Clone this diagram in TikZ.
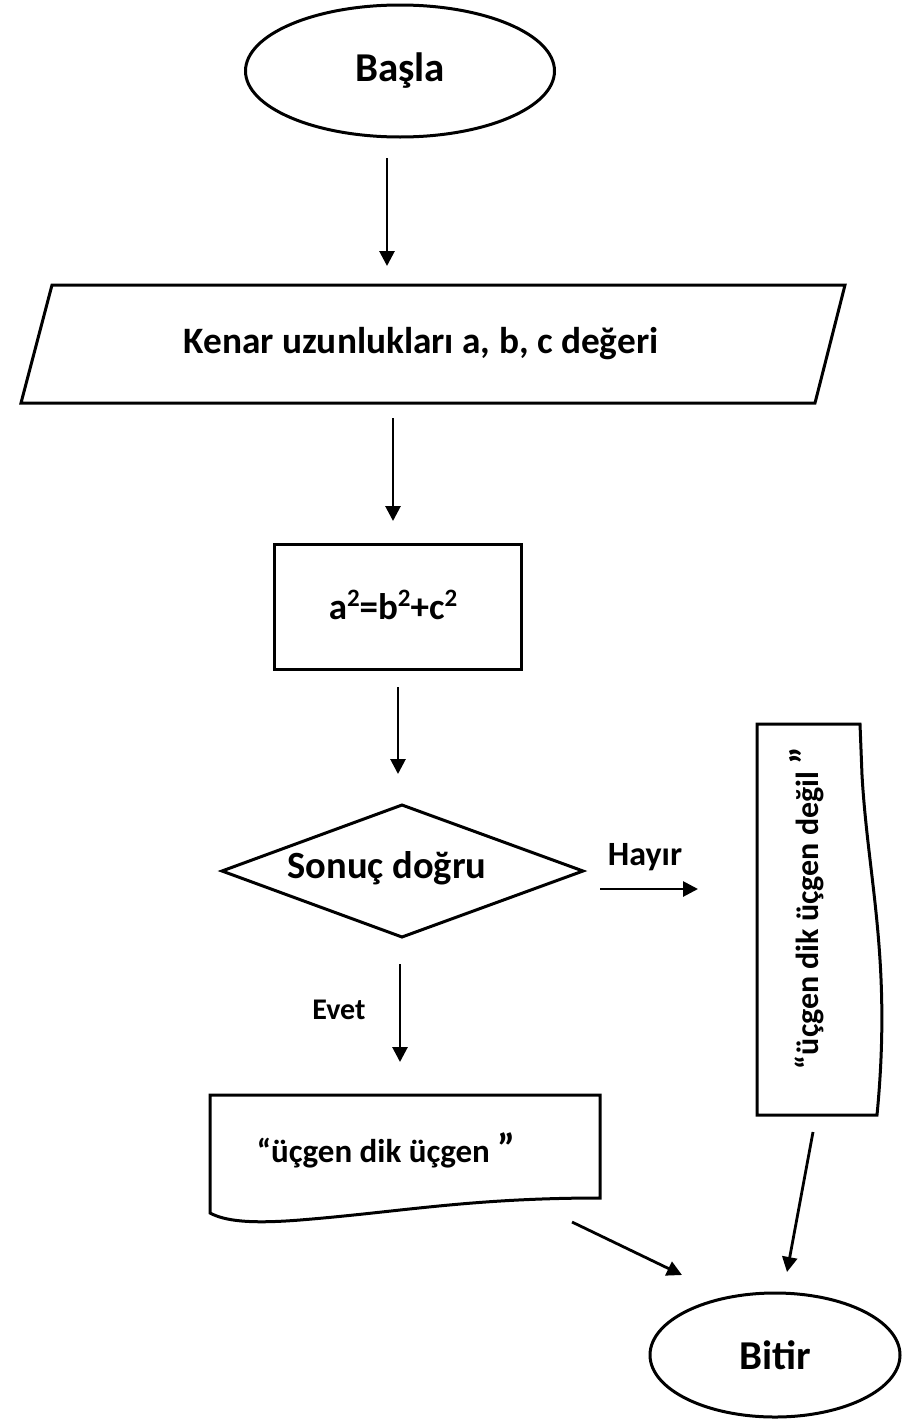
\documentclass[tikz,border=0pt]{standalone}
\usepackage{fontspec}
\setmainfont{Carlito}
\usetikzlibrary{arrows.meta,shapes.geometric}

\tikzset{
  outline/.style={draw=black, line width=3pt, line join=miter},
  terminal/.style={outline, ellipse, inner sep=0pt},
  arr/.style={draw=black, line width=2.8pt, -{Triangle[length=15pt,width=15pt]}},
  lbl/.style={font=\bfseries, inner sep=0pt},
}
\newcommand{\fs}[1]{\fontsize{#1}{#1}\selectfont}
% superscript digit, raised and reduced
\newcommand{\sqr}{\raisebox{0.33em}{\fs{25}2}}

\begin{document}
\begin{tikzpicture}[x=1pt,y=-1pt]
\useasboundingbox (0,0) rectangle (913,1419);

% start / end terminals
\node[terminal, minimum width=309pt, minimum height=132pt, lbl, font=\bfseries\fs{41}] (basla) at (400,71) {Başla};
\node[terminal, minimum width=250pt, minimum height=124pt, lbl, font=\bfseries\fs{41}] (bitir) at (775,1355) {Bitir};

% input parallelogram
\draw[outline] (52,285) -- (845,285) -- (815,403) -- (21,403) -- cycle;
\node[lbl, font=\bfseries\fs{37.3}] (girdi) at (421,344) {Kenar uzunlukları a, b, c değeri};

% process box
\node[outline, rectangle, minimum width=247pt, minimum height=125pt, anchor=north west, inner sep=0pt] (islem) at (273,543) {};
\node[lbl, font=\bfseries\fs{37}] (formul) at (393,605) {a\sqr=b\sqr+c\sqr};

% decision
\draw[outline] (222,871) -- (402,805) -- (583,871) -- (402,937) -- cycle;
\node[lbl, font=\bfseries\fs{38.5}] (karar) at (387,868) {Sonuç doğru};

% output document on the right (rotated, wavy right edge)
\draw[outline] (757,724) -- (860,724) -- (862,775)
  .. controls (868,880) and (892,960) .. (877,1115) -- (757,1115) -- cycle;
\node[lbl, rotate=90, font=\bfseries\fs{32}] (hayirmetin) at (807,908) {“üçgen dik üçgen değil {\fs{40}”}};

% output document at the bottom (wavy bottom edge)
\draw[outline] (210,1095) -- (600,1095) -- (600,1198)
  .. controls (470,1198) and (400,1212) .. (300,1220)
  .. controls (250,1224) and (225,1221) .. (210,1213) -- cycle;
\node[lbl, font=\bfseries\fs{33}] (evetmetin) at (386,1150) {“üçgen dik üçgen {\fs{41}”}};

% branch labels
\node[lbl, font=\bfseries\fs{34}] (hayir) at (645,857) {Hayır};
\node[lbl, font=\bfseries\fs{30}] (evet) at (339,1010) {Evet};

% connector end points
\coordinate (a1s) at (387,158);  \coordinate (a1e) at (387,266);
\coordinate (a2s) at (393,418);  \coordinate (a2e) at (393,521);
\coordinate (a3s) at (398,687);  \coordinate (a3e) at (398,774);
\coordinate (a4s) at (600,889);  \coordinate (a4e) at (698,889);
\coordinate (a5s) at (400,964);  \coordinate (a5e) at (400,1062);
\coordinate (a6s) at (572,1222); \coordinate (a6e) at (682,1275);
\coordinate (a7s) at (813,1132); \coordinate (a7e) at (787,1272);

\draw[arr] (a1s) -- (a1e);
\draw[arr] (a2s) -- (a2e);
\draw[arr] (a3s) -- (a3e);
\draw[arr] (a4s) -- (a4e);
\draw[arr] (a5s) -- (a5e);
\draw[arr] (a6s) -- (a6e);
\draw[arr] (a7s) -- (a7e);
\end{tikzpicture}
\end{document}
